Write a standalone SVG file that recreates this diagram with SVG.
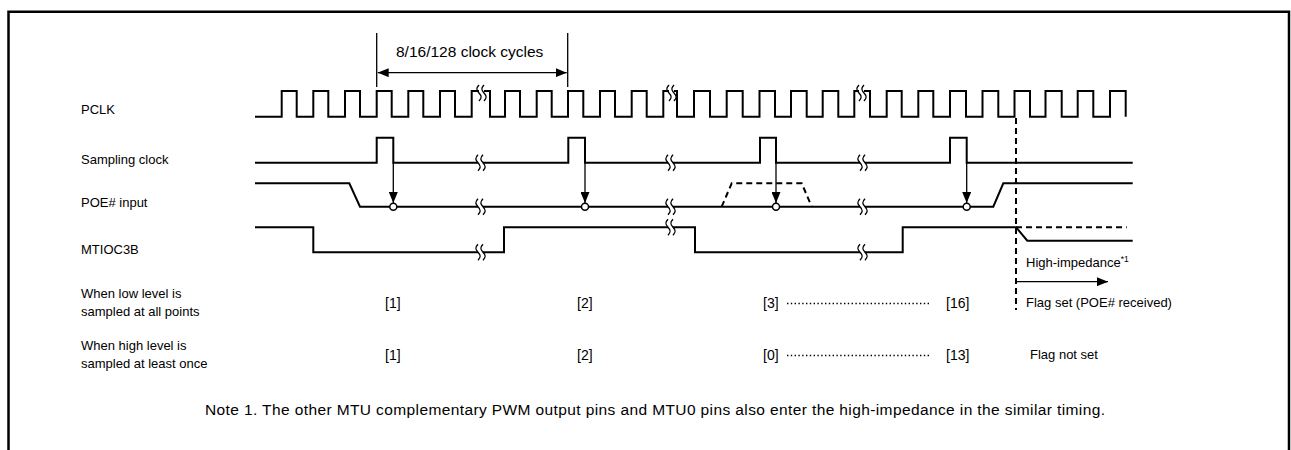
<svg xmlns="http://www.w3.org/2000/svg" xmlns:xlink="http://www.w3.org/1999/xlink" width="1291" height="450" viewBox="0 0 1291 450">
<style>
text{font-family:"Liberation Sans",Arial,sans-serif;font-size:13px;fill:#000}
.n{font-size:14px}
.h{font-size:15.5px}
.w{fill:none;stroke:#000;stroke-width:2;stroke-linejoin:miter}
.d{fill:none;stroke:#000;stroke-width:2;stroke-dasharray:6 4}
.t{fill:none;stroke:#000;stroke-width:1.3}
.dot{fill:none;stroke:#000;stroke-width:1.6;stroke-dasharray:1.4 2.4}
.c{fill:#fff;stroke:#000;stroke-width:1.5}
</style>
<defs>
<marker id="ah" markerUnits="userSpaceOnUse" markerWidth="11" markerHeight="9" refX="11" refY="4.5" orient="auto-start-reverse" viewBox="0 0 11 9">
<path d="M0,0 L11,4.5 L0,9 z" fill="#000"/>
</marker>
<g id="brk">
<rect x="-3" y="-9" width="5" height="18" fill="#fff"/>
<path d="M-3,-8 c-3,3 -3,5 0,8 c3,3 3,5 0,8 M2,-8 c-3,3 -3,5 0,8 c3,3 3,5 0,8" fill="none" stroke="#000" stroke-width="1.4"/>
</g>
</defs>
<rect width="1291" height="450" fill="#fff"/>
<path d="M8.5,450 V11.7 H1289 V450" fill="none" stroke="#000" stroke-width="2.5"/>

<g id="labels">
<text x="81" y="114">PCLK</text>
<text x="81" y="164">Sampling clock</text>
<text x="81" y="207">POE# input</text>
<text x="81" y="254">MTIOC3B</text>
<text x="81" y="298">When low level is</text>
<text x="81" y="316">sampled at all points</text>
<text x="81" y="350">When high level is</text>
<text x="81" y="368">sampled at least once</text>
</g>

<g id="pclk">
<path class="w" d="M255,116.7 H281.7 V91 H296.7 V116.7 H313.3 V91 H328.3 V116.7 H345 V91 H360 V116.7 H376.7 V91 H391.7 V116.7 H408.3 V91 H423.3 V116.7 H440 V91 H455 V116.7 H471.7 V91 H490 V116.7 H505 V91 H520 V116.7 H536.7 V91 H551.7 V116.7 H568 V91 H583.3 V116.7 H600 V91 H615 V116.7 H631.7 V91 H646.7 V116.7 H663.3 V91 H677 V116.7 H694 V91 H710 V116.7 H726.7 V91 H742.7 V116.7 H759.5 V91 H775 V116.7 H791 V91 H806.7 V116.7 H822.7 V91 H838.3 V116.7 H854.3 V91 H870 V116.7 H886.7 V91 H901.7 V116.7 H918.3 V91 H933.3 V116.7 H950 V91 H966 V116.7 H982.5 V91 H998.3 V116.7 H1014.5 V91 H1030 V116.7 H1045.5 V91 H1061.7 V116.7 H1077.7 V91 H1093.3 V116.7 H1110 V91 H1125.7 V116.7"/>
<use xlink:href="#brk" href="#brk" x="482" y="93"/>
<use xlink:href="#brk" href="#brk" x="672" y="93"/>
<use xlink:href="#brk" href="#brk" x="862" y="93"/>
</g>

<g id="cycles">
<path class="t" d="M376.7,33 V87 M567.7,33 V87"/>
<text x="396" y="57" class="h">8/16/128 clock cycles</text>
</g>

<g id="sampling">
<path class="w" d="M255,162.7 H376.7 V137.7 H393.3 V162.7 H568.3 V137.7 H585 V162.7 H760 V137.7 H776 V162.7 H950 V137.7 H966.7 V162.7 H1132.7"/>
<use xlink:href="#brk" href="#brk" x="481" y="162.7"/>
<use xlink:href="#brk" href="#brk" x="671" y="162.7"/>
<use xlink:href="#brk" href="#brk" x="863" y="162.7"/>
</g>

<g id="poe">
<path class="d" d="M721.7,206.7 L731.7,183.3 H801.7 L811.7,206.7"/>
<path class="w" d="M255,183.3 H349.3 L360,206.7 H993.3 L1003.3,183.3 H1132.7"/>
<use xlink:href="#brk" href="#brk" x="481" y="206.7"/>
<use xlink:href="#brk" href="#brk" x="671" y="206.7"/>
<use xlink:href="#brk" href="#brk" x="863" y="206.7"/>
</g>

<g id="mtioc3b">
<path class="d" d="M1016,227.3 H1126.7"/>
<path class="w" d="M255,227.3 H313.3 V252.3 H504 V227.3 H695 V252.3 H902.7 V227.3 H1016 L1027.3,240.7 H1132.7"/>
<use xlink:href="#brk" href="#brk" x="481" y="252.3"/>
<use xlink:href="#brk" href="#brk" x="671" y="227.3"/>
<use xlink:href="#brk" href="#brk" x="863" y="252.3"/>
</g>

<g id="connectors">
<path class="t" d="M377.7,72.7 H566.7" marker-start="url(#ah)" marker-end="url(#ah)"/>
<path class="t" d="M393.3,162.7 V203" marker-end="url(#ah)"/>
<path class="t" d="M585,162.7 V203" marker-end="url(#ah)"/>
<path class="t" d="M776,162.7 V203" marker-end="url(#ah)"/>
<path class="t" d="M966.7,162.7 V203" marker-end="url(#ah)"/>
<path class="d" d="M1016,118 V310"/>
<path class="t" d="M1016,281.7 H1108" marker-end="url(#ah)"/>
</g>

<g id="circles">
<circle class="c" cx="393.3" cy="206.7" r="3.5"/>
<circle class="c" cx="585" cy="206.7" r="3.5"/>
<circle class="c" cx="776" cy="206.7" r="3.5"/>
<circle class="c" cx="966.7" cy="206.7" r="3.5"/>
</g>

<g id="counts">
<text x="385" y="308" class="n">[1]</text>
<text x="577" y="308" class="n">[2]</text>
<text x="763" y="308" class="n">[3]</text>
<path class="dot" d="M787,303.5 H930"/>
<text x="946" y="308" class="n">[16]</text>
<text x="385" y="360" class="n">[1]</text>
<text x="577" y="360" class="n">[2]</text>
<text x="763" y="360" class="n">[0]</text>
<path class="dot" d="M787,355.5 H930"/>
<text x="946" y="360" class="n">[13]</text>
</g>

<g id="results">
<text x="1026" y="267">High-impedance<tspan font-size="8.5" dy="-5">*1</tspan></text>
<text x="1026" y="307">Flag set (POE# received)</text>
<text x="1030" y="359">Flag not set</text>
</g>

<text x="205" y="415" class="h" textLength="900" lengthAdjust="spacing">Note 1.  The other MTU complementary PWM output pins and MTU0 pins also enter the high-impedance in the similar timing.</text>
</svg>
